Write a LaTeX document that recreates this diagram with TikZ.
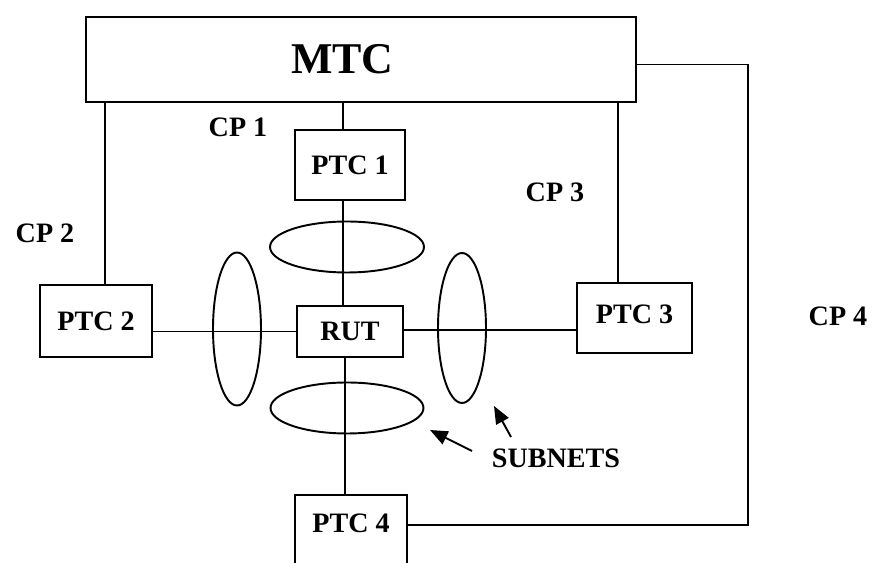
\documentclass[tikz,border=0pt]{standalone}
\usepackage{fontspec}
\setmainfont{Liberation Serif}
\usetikzlibrary{positioning,arrows.meta,calc,shapes.geometric}
\tikzset{
  ptcbox/.style={rectangle, draw=black, line width=1.1pt, inner sep=0pt,
                font=\fontsize{16}{18}\selectfont\bfseries},
  subnet/.style={ellipse, draw=black, line width=1.1pt, inner sep=0pt},
  cplab/.style={font=\fontsize{16}{18}\selectfont\bfseries, inner sep=1pt},
  link/.style={draw=black, line width=1.1pt},
  subarrow/.style={draw=black, line width=1.1pt, -{Triangle[length=10pt, width=8pt]}},
}

\begin{document}
\begin{tikzpicture}[x=0.02cm, y=-0.02cm]
  \useasboundingbox (0,0) rectangle (873,563);
  \clip (0,0) rectangle (873,563);
  \node[ptcbox, minimum width=11cm, minimum height=1.7cm,
        font=\fontsize{25}{28}\selectfont\bfseries] (mtc) at (361,59.5) {\hspace*{-0.75cm}MTC};
  \node[ptcbox, minimum width=2.2cm, minimum height=1.4cm] (ptc1) at (350,165) {PTC 1};
  \node[ptcbox, minimum width=2.24cm, minimum height=1.44cm] (ptc2) at (96,321) {\raisebox{-0.1cm}{PTC 2}};
  \node[ptcbox, minimum width=2.3cm, minimum height=1.4cm] (ptc3) at (634.5,318) {\raisebox{0.14cm}{PTC 3}};
  \node[ptcbox, minimum width=2.12cm, minimum height=1.02cm] (rut) at (350,331.5) {RUT};
  \node[ptcbox, minimum width=2.24cm, minimum height=2cm, anchor=north,
        label={[cplab, anchor=north, yshift=-0.36cm]north:PTC 4}] (ptc4) at (351,494) {};
  % control paths
  \node[cplab] (cp1) at (238,127) {CP 1};
  \node[cplab] (cp2) at (45,233) {CP 2};
  \node[cplab] (cp3) at (555,192) {CP 3};
  \node[cplab] (cp4) at (838,316) {CP 4};
  \coordinate (cpcorner) at (748,525);
  \draw[link] ([yshift=-0.1cm]mtc.east) -| (cpcorner) -- (ptc4.east |- cpcorner);
  \draw[link] ([xshift=0.18cm]ptc2.north) -- ([xshift=0.18cm]ptc2.north |- mtc.south);
  \draw[link] ([xshift=-0.14cm]ptc1.north) -- ([xshift=-0.14cm]ptc1.north |- mtc.south);
  \draw[link] ([xshift=-0.33cm]ptc3.north) -- ([xshift=-0.33cm]ptc3.north |- mtc.south);
  % subnet links
  \draw[link] ([xshift=-0.14cm]ptc1.south) -- ([xshift=-0.14cm]ptc1.south |- rut.north);
  \draw[link] (rut.west) -- (rut.west -| ptc2.east);
  \draw[link] ([yshift=0.03cm]rut.east) -- ([yshift=0.03cm]rut.east -| ptc3.west);
  \draw[link] ([xshift=-0.1cm]rut.south) -- ([xshift=-0.1cm]rut.south |- ptc4.north);
  % subnets
  \node[subnet, minimum width=3.08cm, minimum height=1.02cm] (subT) at (347,247) {};
  \node[subnet, minimum width=0.96cm, minimum height=3.06cm] (subL) at (237,329) {};
  \node[subnet, minimum width=0.96cm, minimum height=3.0cm] (subR) at (462,328) {};
  \node[subnet, minimum width=3.06cm, minimum height=1.02cm] (subB) at (347,408) {};
  \node[cplab] (subnets) at (556,458) {SUBNETS};
  \coordinate (tailB) at (472,451);
  \coordinate (headB) at (430,430);
  \coordinate (tailR) at (511,437);
  \coordinate (headR) at (494,406);
  \draw[subarrow] (tailB) -- (headB);
  \draw[subarrow] (tailR) -- (headR);
\end{tikzpicture}
\end{document}
